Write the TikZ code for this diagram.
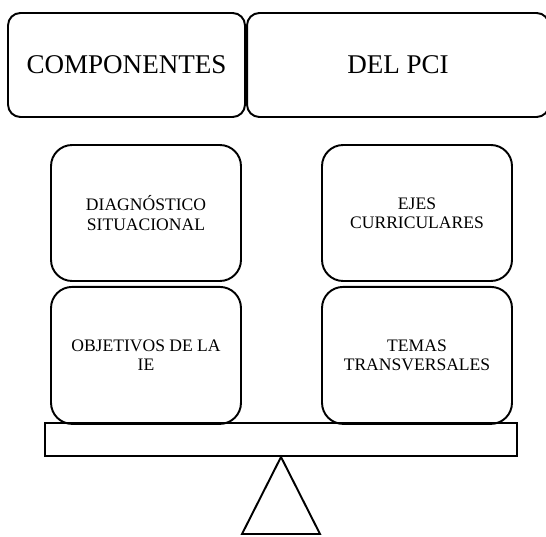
\documentclass[tikz,border=0pt]{standalone}
\usepackage{fontspec}
\setmainfont{Liberation Serif}
\usetikzlibrary{positioning}

\begin{document}
\begin{tikzpicture}[x=0.02cm, y=-0.02cm,
    titlebox/.style={draw, line width=1.1pt, rounded corners=7pt,
      minimum height=2.08cm, font=\fontsize{15.4}{18}\selectfont},
    itembox/.style={draw, line width=1.1pt, rounded corners=12pt,
      minimum width=3.8cm, align=center, font=\fontsize{10}{11}\selectfont},
    node distance=0.08cm]
  \clip (0,0) rectangle (546,536);
  % header
  \node[titlebox, minimum width=4.74cm] (t0) at (126.5,65) {COMPONENTES};
  \node[titlebox, minimum width=6.04cm] (t1) at (398,65) {DEL PCI};
  % left pan
  \node[itembox, minimum height=2.72cm] (d0) at (146,213) {DIAGN\'OSTICO\\SITUACIONAL};
  \node[itembox, minimum height=2.74cm, below=of d0] (d1) {OBJETIVOS DE LA\\IE};
  % right pan
  \node[itembox, minimum height=2.72cm] (e0) at (417,213) {EJES\\CURRICULARES};
  \node[itembox, minimum height=2.74cm, below=of e0] (e1) {TEMAS\\TRANSVERSALES};
  % beam and pivot
  \node[draw, line width=1.1pt, minimum width=9.44cm, minimum height=0.66cm] (p0) at (281,439.5) {};
  \coordinate (b0) at (242,534);
  \coordinate (b1) at (320,534);
  \draw[line width=1.1pt, line join=miter] (p0.south) -- (b0) -- (b1) -- cycle;
\end{tikzpicture}
\end{document}
